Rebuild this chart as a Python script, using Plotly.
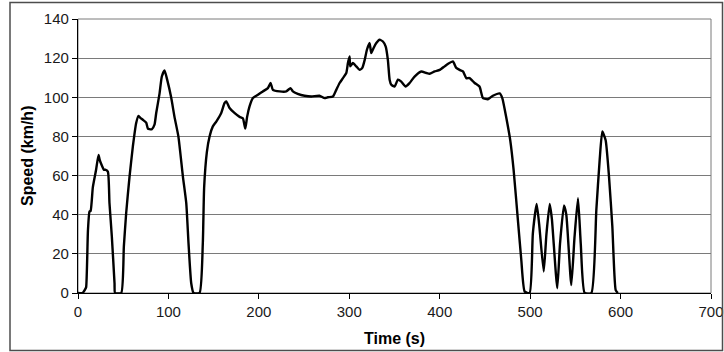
import plotly.graph_objects as go

# Vehicle speed trace over the drive cycle
time_s = [0, 5, 8, 9, 11, 12.7, 14, 16.4, 20, 22.7, 24, 25.6, 28.6, 30, 33, 34.8,
          37.4, 40.4, 41, 47.8, 50.7, 53.3, 57, 60.7, 64.4, 67, 69, 71.7, 75.4,
          77.3, 79, 81.7, 84.6, 86.5, 90.2, 92.7, 95.7, 98.6, 103, 106.7, 111,
          116, 119.7, 122.2, 125.2, 127.8, 134.4, 138, 139.5, 142.5, 145.5, 149,
          152.9, 158.4, 162, 164, 167.6, 173, 178.7, 182.3, 185, 187, 189.7,
          193.4, 199, 204.4, 210, 213, 215.5, 223, 230.3, 235, 237.6, 243, 250.5,
          258, 267, 272.7, 276.3, 281.9, 285.6, 289.3, 293, 296.7, 298.5, 300.3,
          301, 304, 307.7, 311.4, 314.4, 317, 319.5, 322.5, 324.3, 326.9, 329.9,
          333.5, 337.2, 340.2, 342.7, 344.6, 346.5, 350.1, 353.8, 357.5, 362.3,
          366.7, 372.2, 379.6, 385.2, 388.8, 394.4, 400, 405.4, 409, 414.6, 418.3,
          422, 425.7, 429.4, 433, 438.6, 444, 447.8, 453.3, 458.8, 466.3, 469.2,
          473.7, 478, 481.7, 486.5, 490.2, 494, 499.4, 503, 507.2, 510, 515, 518,
          521.6, 524, 530, 533, 537.4, 540, 545.5, 549, 552.9, 556, 560.3, 567.7,
          573.2, 576.9, 579.8, 583.5, 587.2, 590.9, 594.6, 597]
speed_kmh = [0, 0, 2, 3, 32, 41.6, 42, 54, 63, 70.6, 68, 66, 63, 63, 62, 46,
             29, 5, 0, 0, 23.7, 41, 59.5, 75, 87, 90.5, 89.5, 88.5, 87,
             84, 83.7, 83.7, 86, 92, 102, 110.6, 113.7, 109, 100, 90, 80,
             59.5, 46, 25.5, 5, 0, 0, 25, 54, 72, 80, 85,
             87.6, 92, 97, 97.9, 94.5, 92, 90, 89.3, 84, 90, 95.3,
             99.6, 101.3, 103, 104.7, 107.3, 103.8, 103, 103, 104.7, 103, 101.8, 100.8,
             100.4, 100.8, 99.6, 100, 100.4, 103.8, 107.3, 109.8, 112.4, 117.5, 120.9,
             115.8, 117.5, 115.8, 114, 115, 119, 124.3, 127.7, 122.6, 125.2, 127.7,
             129.4, 128.5, 126, 119, 109, 106.4, 105.5, 109, 108, 105.5,
             107.3, 110.6, 113.2, 112.4, 112, 113.2, 114, 115.8, 117, 118.3, 115,
             114, 113.2, 109.8, 109.8, 107.3, 105.5, 99.6, 99, 100.8, 102, 99.6,
             89.4, 78, 63, 37, 17, 0.7, 0, 30.5, 45.5, 35, 11, 30,
             45.5, 38, 2.4, 25, 44.7, 40, 4, 28, 48.4, 25, 0, 0,
             42.5, 68, 82.5, 78, 59.5, 34, 1.5, 0]

x_ticks = [0, 100, 200, 300, 400, 500, 600, 700]
y_ticks = [0, 20, 40, 60, 80, 100, 120, 140]

W, H = 724, 352
L, R, T, B = 78, 13, 19, 59
pw, ph = W - L - R, H - T - B

fig = go.Figure()
fig.add_trace(go.Scatter(
    x=time_s, y=speed_kmh, mode="lines",
    line=dict(color="#000000", width=2.4, shape="spline", smoothing=0.5),
    showlegend=False, hoverinfo="x+y",
))

tick_font = dict(family="Liberation Sans, Arial, sans-serif", size=15, color="#1a1a1a")
title_font = dict(family="Liberation Sans, Arial, sans-serif", size=16, color="#000000")

fig.update_layout(
    width=W, height=H,
    margin=dict(l=L, r=R, t=T, b=B, pad=0, autoexpand=False),
    paper_bgcolor="#ffffff", plot_bgcolor="#ffffff",
    xaxis=dict(
        range=[0, 700], tickvals=x_ticks, ticktext=[str(v) for v in x_ticks],
        showgrid=False, zeroline=False, automargin=False,
        showline=True, linecolor="#000000", linewidth=1.3,
        ticks="outside", ticklen=5, tickwidth=1, tickcolor="#000000",
        tickfont=tick_font, fixedrange=True,
    ),
    yaxis=dict(
        range=[0, 140], tickvals=y_ticks, ticktext=[str(v) for v in y_ticks],
        showgrid=True, gridcolor="#7a7a7a", gridwidth=1,
        zeroline=False, automargin=False,
        showline=True, linecolor="#000000", linewidth=1.3,
        ticks="outside", ticklen=5, tickwidth=1, tickcolor="#000000",
        tickfont=tick_font, fixedrange=True,
    ),
    shapes=[
        # plot-area frame
        dict(type="rect", xref="paper", yref="paper", x0=0, x1=1, y0=0, y1=1,
             line=dict(color="#7a7a7a", width=1), layer="below"),
        # outer chart border
        dict(type="rect", xref="paper", yref="paper",
             x0=(10 - L) / pw, x1=(722.5 - L) / pw,
             y0=(H - B - 350.5) / ph, y1=(H - B - 2.5) / ph,
             line=dict(color="#4d4d4d", width=1.5)),
    ],
    annotations=[
        dict(text="<b>Time (s)</b>", xref="paper", yref="paper",
             x=0.5, y=(H - B - 338) / ph, xanchor="center", yanchor="middle",
             showarrow=False, font=title_font),
        dict(text="<b>Speed (km/h)</b>", xref="paper", yref="paper",
             x=(27 - L) / pw, y=(H - B - 156) / ph, xanchor="center", yanchor="middle",
             textangle=-90, showarrow=False, font=title_font),
    ],
)

fig.write_html("out.html")
